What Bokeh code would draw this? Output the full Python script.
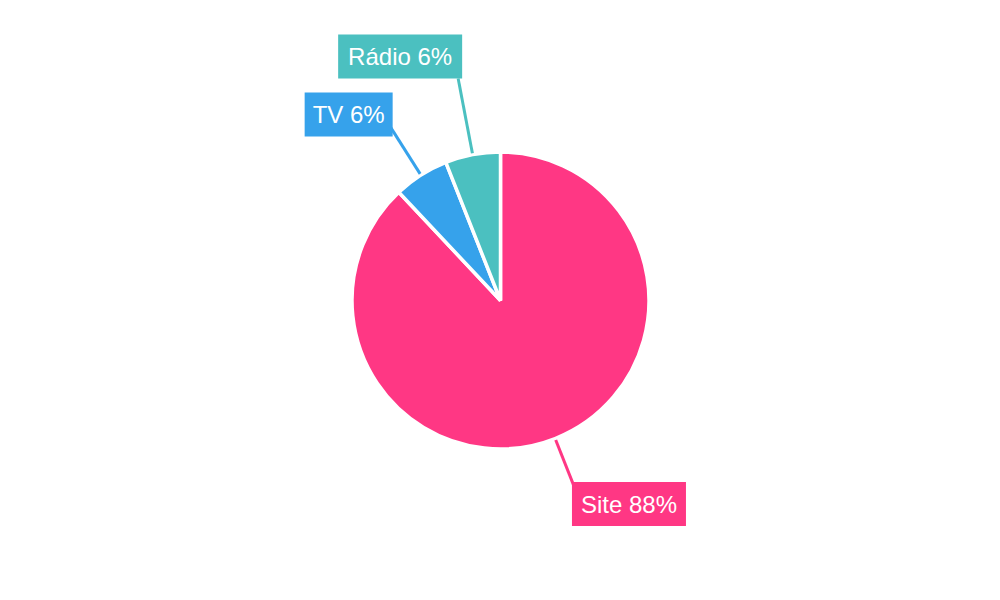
import math
from bokeh.plotting import figure
from bokeh.models import Range1d, ColumnDataSource
from bokeh.core.properties import value
from bokeh.embed import file_html
from bokeh.resources import INLINE

# ---- data ----
categories = ["Site", "TV", "Rádio"]
percents = [88, 6, 6]
colors = ["#FF3784", "#36A2EB", "#4BC0C0"]

# ---- layout (page pixel geometry) ----
CX, CY, R = 500, 300, 148.5
line_r0 = 150
line_r1 = [205, 205, 226]
# box: (dx of left edge from end, dy of top edge from end, width, height) in page px (y down)
box_geom = [(-4, -9, 114, 44), (-86, -35, 88, 44), (-120, -44, 124, 44)]

W, H = 984, 584
p = figure(width=W, height=H, x_range=Range1d(0, 984), y_range=Range1d(16, 600),
           output_backend="svg", toolbar_location=None, min_border=0)
p.axis.visible = False
p.grid.visible = False
p.outline_line_color = None
p.background_fill_color = "white"


def Y(yp):
    return 600 - yp


total = sum(percents)
start = 0.0
starts, ends, mids = [], [], []
for v in percents:
    frac = v / total
    a0 = math.pi / 2 - start * 2 * math.pi
    a1 = math.pi / 2 - (start + frac) * 2 * math.pi
    starts.append(a0)
    ends.append(a1)
    mids.append(math.pi / 2 - (start + frac / 2) * 2 * math.pi)
    start += frac

src = ColumnDataSource(dict(start=starts, end=ends, color=colors))
p.wedge(x=CX, y=Y(CY), radius=R, radius_units="screen", start_angle="start", end_angle="end",
        direction="clock", fill_color="color", line_color="white", line_width=3.5, source=src)

for i, (cat, v) in enumerate(zip(categories, percents)):
    m = mids[i]
    dx, dy = math.cos(m), -math.sin(m)  # page direction (y down)
    x0, y0 = CX + dx * line_r0, CY + dy * line_r0
    x1, y1 = CX + dx * line_r1[i], CY + dy * line_r1[i]
    p.line([x0, x1], [Y(y0), Y(y1)], line_color=colors[i], line_width=3)
    bx, by, bw, bh = box_geom[i]
    left = x1 + bx
    top = y1 + by
    p.quad(left=left, right=left + bw, top=Y(top), bottom=Y(top + bh),
           fill_color=colors[i], line_color=None)
    p.text(x=[left + bw / 2], y=[Y(top + bh / 2)], text=[f"{cat} {v}%"],
           text_align="center", text_baseline="middle", text_color="white",
           text_font=value("Liberation Sans"), text_font_size="24px")

open("out.html", "w").write(file_html(p, INLINE))
